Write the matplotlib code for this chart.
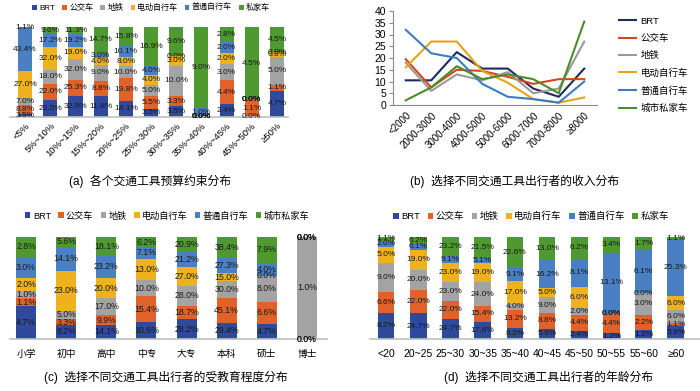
import matplotlib
matplotlib.use('Agg')
import matplotlib.pyplot as plt
import numpy as np

plt.rcParams['font.family'] = ['Liberation Sans', 'Noto Sans CJK SC', 'DejaVu Sans']
LABEL_FAMILY = ['Liberation Sans Narrow', 'Liberation Sans', 'DejaVu Sans']

# ---------------- data ----------------
colors6 = ['#2F4A9C', '#E0622A', '#A3A3A3', '#EFB21E', '#4A80C3', '#4E9A31']
line_colors = ['#1F2A5E', '#D9441C', '#9A9A9A', '#E8A317', '#3C7CC0', '#4C8C2B']

a_cats = ['<5%', '5%~10%', '10%~15%', '15%~20%', '20%~25%', '25%~30%',
          '30%~35%', '35%~40%', '40%~45%', '45%~50%', '≥50%']
a_names = ['BRT', '公交车', '地铁', '电动自行车', '普通自行车', '私家车']
a_brt   = [3.5, 23.5, 32.9, 11.8, 14.1, 3.5, 3.5, 0.0, 2.4, 0.0, 4.7]
a_bus   = [8.8, 22.0, 25.3, 8.8, 19.8, 5.5, 3.3, 0.0, 4.4, 1.1, 1.1]
a_metro = [7.0, 18.0, 32.0, 9.0, 10.0, 5.0, 10.0, 0.0, 3.0, 0.0, 5.0]
a_ebike = [27.0, 32.0, 19.0, 4.0, 8.0, 4.0, 3.0, 0.0, 2.0, 0.0, 0.8]
a_bike  = [43.4, 17.2, 19.2, 3.0, 10.1, 4.0, 0.0, 1.0, 2.0, 0.0, 0.0]
a_car   = [1.1, 9.6, 11.3, 14.7, 15.8, 16.9, 9.6, 9.0, 2.8, 4.5, 4.5]

b_cats = ['<2000', '2000-3000', '3000-4000', '4000-5000', '5000-6000',
          '6000-7000', '7000-8000', '≥8000']
b_names = ['BRT', '公交车', '地铁', '电动自行车', '普通自行车', '城市私家车']
b_brt   = [10.5, 10.5, 22.5, 15.5, 15.5, 7.0, 3.5, 15.5]
b_bus   = [19.5, 7.5, 15.0, 14.5, 12.0, 9.0, 11.0, 11.0]
b_metro = [18.0, 6.0, 13.0, 10.5, 14.0, 5.0, 7.0, 27.0]
b_ebike = [16.0, 27.0, 27.0, 14.5, 9.5, 2.5, 1.0, 3.2]
b_bike  = [32.0, 22.0, 20.0, 9.0, 3.5, 2.5, 1.0, 10.0]
b_car   = [2.0, 7.5, 16.5, 11.0, 13.0, 11.0, 5.0, 35.5]

c_cats = ['小学', '初中', '高中', '中专', '大专', '本科', '硕士', '博士']
c_names = ['BRT', '公交车', '地铁', '电动自行车', '普通自行车', '城市私家车']
c_brt   = [4.7, 8.2, 14.1, 10.6, 28.2, 29.4, 4.7, 0.0]
c_bus   = [1.1, 3.3, 9.9, 15.4, 18.7, 45.1, 6.6, 0.0]
c_metro = [1.0, 5.0, 17.0, 10.0, 28.0, 30.0, 8.0, 1.0]
c_ebike = [2.0, 23.0, 20.0, 13.0, 27.0, 15.0, 0.0, 0.0]
c_bike  = [3.0, 14.1, 23.2, 7.1, 21.2, 27.3, 4.0, 0.0]
c_car   = [2.8, 5.6, 18.1, 6.2, 20.9, 38.4, 7.9, 0.0]

d_cats = ['<20', '20~25', '25~30', '30~35', '35~40', '40~45', '45~50',
          '50~55', '55~60', '≥60']
d_names = ['BRT', '公交车', '地铁', '电动自行车', '普通自行车', '私家车']
d_brt   = [8.2, 24.7, 24.7, 17.6, 8.2, 5.9, 2.4, 1.2, 1.2, 5.9]
d_bus   = [6.6, 22.0, 22.0, 15.4, 13.2, 8.8, 4.4, 4.4, 2.2, 1.1]
d_metro = [9.0, 20.0, 23.0, 24.0, 4.0, 9.0, 2.0, 0.0, 3.0, 6.0]
d_ebike = [5.0, 19.0, 23.0, 19.0, 17.0, 5.0, 6.0, 0.0, 0.0, 6.0]
d_bike  = [2.0, 6.1, 9.1, 5.1, 9.1, 16.2, 8.1, 13.1, 6.1, 25.3]
d_car   = [1.1, 6.2, 23.2, 21.5, 22.6, 13.0, 6.2, 3.4, 1.7, 1.1]

captions = ['(a)  各个交通工具预算约束分布',
            '(b)  选择不同交通工具出行者的收入分布',
            '(c)  选择不同交通工具出行者的受教育程度分布',
            '(d)  选择不同交通工具出行者的年龄分布']

# ---------------- layout helpers ----------------
W, H = 700, 391
fig = plt.figure(figsize=(7, 3.91), dpi=100)


def rect(x0, y0, x1, y1):
    return [x0 / W, 1 - y1 / H, (x1 - x0) / W, (y1 - y0) / H]


def stacked(ax, cats, names, series, width, lab_fs, tick_fs, rot):
    vals = np.array(series, dtype=float)
    totals = vals.sum(axis=0)
    frac = vals / totals
    x = np.arange(len(cats))
    bottom = np.zeros(len(cats))
    for i, name in enumerate(names):
        ax.bar(x, frac[i], width, bottom=bottom, color=colors6[i], label=name,
               linewidth=0)
        for j in range(len(cats)):
            ax.text(x[j], bottom[j] + frac[i][j] / 2, f"{vals[i][j]:.1f}%",
                    ha='center', va='center', fontsize=lab_fs, color='#1a1a1a',
                    family=LABEL_FAMILY)
        bottom += frac[i]
    ax.set_ylim(0, 1)
    ax.set_yticks([])
    for s in ['top', 'right', 'left']:
        ax.spines[s].set_visible(False)
    ax.spines['bottom'].set_color('#BFBFBF')
    ax.spines['bottom'].set_linewidth(1.2)
    ax.set_xticks(x)
    if rot:
        ax.set_xticklabels(cats, rotation=45, ha='right', rotation_mode='anchor',
                           fontsize=tick_fs)
    else:
        ax.set_xticklabels(cats, fontsize=tick_fs)
    ax.tick_params(axis='x', length=0, pad=3)
    ax.patch.set_visible(False)


def legend_row(ax, center_px, fs, colsp):
    h, l = ax.get_legend_handles_labels()
    fig.legend(h, l, loc='center', bbox_to_anchor=(center_px[0] / W, 1 - center_px[1] / H),
               ncol=6, frameon=False, fontsize=fs, handlelength=0.6, handleheight=0.6,
               handletextpad=0.25, columnspacing=colsp, borderpad=0)


# ---------------- (a) ----------------
axa = fig.add_axes(rect(10, 27, 288, 117))
stacked(axa, a_cats, a_names, [a_brt, a_bus, a_metro, a_ebike, a_bike, a_car],
        0.56, 6.0, 6.8, True)
axa.set_xlim(-0.6, 10.44)
legend_row(axa, (151, 8), 5.8, 0.9)

# ---------------- (b) ----------------
axb = fig.add_axes(rect(393, 11, 597, 105))
xb = np.arange(len(b_cats))
for i, (nm, ser) in enumerate(zip(b_names, [b_brt, b_bus, b_metro, b_ebike, b_bike, b_car])):
    axb.plot(xb, ser, color=line_colors[i], lw=1.5, label=nm)
axb.set_xlim(-0.5, 7.5)
axb.set_ylim(0, 40)
axb.set_yticks(range(0, 41, 5))
axb.tick_params(axis='y', labelsize=7.5, length=3, color='#888888', pad=2)
axb.set_xticks(xb)
axb.set_xticklabels(b_cats, rotation=45, ha='right', rotation_mode='anchor', fontsize=7)
axb.tick_params(axis='x', length=0, pad=4)
for s in ['top', 'right']:
    axb.spines[s].set_visible(False)
for s in ['left', 'bottom']:
    axb.spines[s].set_color('#888888')
axb.legend(loc='upper left', bbox_to_anchor=(614 / W, 1 - 12 / H),
           bbox_transform=fig.transFigure, frameon=False, fontsize=6.8,
           handlelength=1.8, labelspacing=0.85, handletextpad=0.5, borderpad=0)

# ---------------- (c) ----------------
axc = fig.add_axes(rect(10, 237, 327, 339))
stacked(axc, c_cats, c_names, [c_brt, c_bus, c_metro, c_ebike, c_bike, c_car],
        0.5, 6.3, 7, False)
axc.set_xlim(-0.4, 7.5)
axc.tick_params(axis='x', pad=7)
legend_row(axc, (167, 216), 6.6, 0.8)

# ---------------- (d) ----------------
axd = fig.add_axes(rect(370, 237, 700, 339))
stacked(axd, d_cats, d_names, [d_brt, d_bus, d_metro, d_ebike, d_bike, d_car],
        0.52, 6.0, 7.5, False)
axd.set_xlim(-0.5, 9.75)
axd.tick_params(axis='x', pad=7)
legend_row(axd, (531, 216), 6.8, 0.8)

# ---------------- captions ----------------
fig.text(150 / W, 1 - 181 / H, captions[0], ha='center', va='center', fontsize=8.5)
fig.text(514 / W, 1 - 181 / H, captions[1], ha='center', va='center', fontsize=8.5)
fig.text(166 / W, 1 - 377 / H, captions[2], ha='center', va='center', fontsize=8.5)
fig.text(549 / W, 1 - 377 / H, captions[3], ha='center', va='center', fontsize=8.5)

fig.savefig('out.png', dpi=100)
